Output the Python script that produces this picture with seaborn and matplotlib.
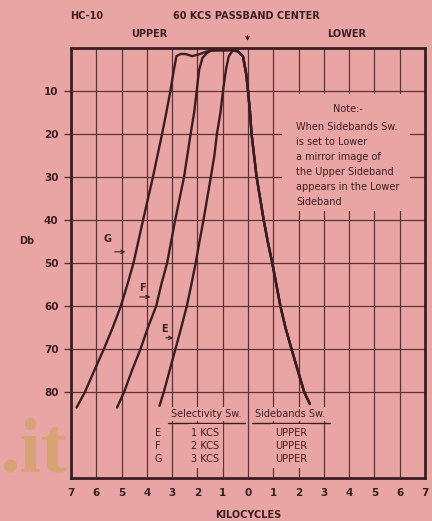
import numpy as np
import pandas as pd
import matplotlib
matplotlib.use("Agg")
import matplotlib.pyplot as plt
from matplotlib.patches import Rectangle
import seaborn as sns

# Curves: x in kilocycles (upper sideband negative), y in Db
g_x = [-6.78, -6.45, -6.08, -5.70, -5.35, -5.03, -4.77, -4.53, -4.34, -4.15, -3.76,
       -3.58, -3.40, -3.23, -3.07, -2.93, -2.83, -2.67, -2.47, -2.21, -1.95, -1.67,
       -1.41, -0.67]
g_db = [83.6, 80, 75, 70, 65, 60, 55, 50, 45, 40, 30, 25, 20, 15, 10, 5, 1.9, 1.4,
        1.4, 1.9, 1.5, 0.9, 0.5, 0.5]
f_x = [-5.18, -4.90, -4.59, -4.25, -3.96, -3.63, -3.43, -3.20, -3.04, -2.88, -2.53,
       -2.40, -2.27, -2.13, -2.03, -1.93, -1.80, -1.63, -1.47, -0.67]
f_db = [83.6, 80, 75, 70, 65, 60, 55, 50, 45, 40, 30, 25, 20, 15, 10, 5, 2.3, 1.2,
        0.6, 0.5]
e_x = [-3.50, -3.33, -3.10, -2.87, -2.64, -2.42, -2.24, -2.07, -1.92, -1.76, -1.47,
       -1.33, -1.23, -1.09, -0.99, -0.87, -0.76, -0.63, -0.47]
e_db = [83.2, 80, 75, 70, 65, 60, 55, 50, 45, 40, 30, 25, 20, 15, 10, 5, 1.9, 0.8, 0.4]
# shared skirt on the lower side
skirt_x = [-0.40, -0.20, -0.07, 0.00, 0.08, 0.14, 0.24, 0.34, 0.48, 0.62, 0.78, 0.96,
           1.12, 1.28, 1.48, 1.72, 1.97, 2.22, 2.45]
skirt_db = [0.8, 1.9, 6.1, 10, 15, 20, 25, 30, 35, 40, 45, 50, 55, 60, 65, 70, 75, 80, 82.8]

curve_names = ["E", "F", "G"]
kcs = ["1 KCS", "2 KCS", "3 KCS"]
sideband = ["UPPER", "UPPER", "UPPER"]
x_ticks = list(range(-7, 8))
y_ticks = [10, 20, 30, 40, 50, 60, 70, 80]

note_lines = ["When Sidebands Sw.", "is set to Lower", "a mirror image of",
              "the Upper Sideband", "appears in the Lower", "Sideband"]

rows = []
for name, xs, ys in [("E", e_x, e_db), ("F", f_x, f_db), ("G", g_x, g_db)]:
    for x, y in zip(xs + skirt_x, ys + skirt_db):
        rows.append({"curve": name, "kc": x, "db": y})
df = pd.DataFrame(rows)

BG = "#E9A5A3"
INK = "#3b1d22"
GRID = "#5c3338"

sns.set_theme(style="white")
plt.rcParams["font.family"] = ["DejaVu Sans"]

fig = plt.figure(figsize=(4.32, 5.21), dpi=100, facecolor=BG)
ax = fig.add_axes([0.1644, 0.0825, 0.8194, 0.8254])
ax.set_facecolor(BG)

sns.lineplot(data=df, x="kc", y="db", hue="curve", units="curve", estimator=None,
             sort=False, palette={"E": INK, "F": INK, "G": INK}, linewidth=1.7,
             legend=False, ax=ax, zorder=3)

ax.set_xlim(-7, 7)
ax.set_ylim(100, 0)
ax.set_xticks(x_ticks)
ax.set_xticklabels([str(abs(t)) for t in x_ticks], fontsize=7.5, fontweight="bold", color=INK)
ax.set_yticks(y_ticks)
ax.set_yticklabels([str(t) for t in y_ticks], fontsize=7.5, fontweight="bold", color=INK)
ax.tick_params(axis="x", length=0, pad=7)
ax.tick_params(axis="y", length=5, width=1, color=GRID, pad=4, left=True)
ax.set_axisbelow(True)
ax.grid(True, color=GRID, linewidth=0.9)
for s in ax.spines.values():
    s.set_color(INK)
    s.set_linewidth(2.0)
ax.set_xlabel("KILOCYCLES", fontsize=7, fontweight="bold", color=INK, labelpad=9)
ax.set_ylabel("")

# blank area behind the note
ax.add_patch(Rectangle((1.34, 10.6), 5.06, 27.4, facecolor=BG, edgecolor="none", zorder=1))
ax.text(3.95, 14.2, "Note:-", fontsize=7, color=INK, ha="center", va="center", zorder=4)
for i, line in enumerate(note_lines):
    ax.text(1.9, 18.4 + i * 3.48, line, fontsize=7, color=INK, ha="left", va="center", zorder=4)

# curve labels with arrows
for name, (lx, ly), (ax0, ax1, ay) in zip(
        curve_names,
        [(-3.32, 65.3), (-4.19, 55.8), (-5.57, 44.4)],
        [(-3.36, -2.85, 67.4), (-4.39, -3.75, 57.9), (-5.38, -4.74, 47.4)]):
    ax.text(lx, ly, name, fontsize=7, fontweight="bold", color=INK, ha="center", va="center", zorder=4)
    ax.annotate("", xy=(ax1, ay), xytext=(ax0, ay),
                arrowprops=dict(arrowstyle="->", color=INK, lw=0.8, mutation_scale=6), zorder=4)

# selectivity table
box = dict(facecolor=BG, edgecolor="none", pad=1.5)
ax.text(-1.66, 85.1, "Selectivity Sw.", fontsize=7, color=INK, ha="center", va="center", bbox=box, zorder=4)
ax.text(1.66, 85.1, "Sidebands Sw.", fontsize=7, color=INK, ha="center", va="center", bbox=box, zorder=4)
ax.plot([-3.16, -0.12], [87.3, 87.3], color=INK, lw=1.0, zorder=4)
ax.plot([0.16, 3.24], [87.3, 87.3], color=INK, lw=1.0, zorder=4)
for i in range(3):
    y = 89.5 + i * 3.05
    ax.text(-3.56, y, curve_names[i], fontsize=7, color=INK, ha="center", va="center", zorder=4)
    ax.text(-1.70, y, kcs[i], fontsize=7, color=INK, ha="center", va="center",
            bbox=dict(facecolor=BG, edgecolor="none", pad=2.5), zorder=4)
    ax.text(1.70, y, sideband[i], fontsize=7, color=INK, ha="center", va="center",
            bbox=dict(facecolor=BG, edgecolor="none", pad=2.5), zorder=4)

# header texts
fig.text(87 / 432, 1 - 16 / 521, "HC-10", fontsize=7, fontweight="bold", color=INK, ha="center", va="center")
fig.text(246 / 432, 1 - 16 / 521, "60 KCS PASSBAND CENTER", fontsize=7, fontweight="bold",
         color=INK, ha="center", va="center")
fig.text(149 / 432, 1 - 34 / 521, "UPPER", fontsize=7, fontweight="bold", color=INK, ha="center", va="center")
fig.text(347 / 432, 1 - 34 / 521, "LOWER", fontsize=7, fontweight="bold", color=INK, ha="center", va="center")
fig.text(27 / 432, 1 - 241 / 521, "Db", fontsize=7, fontweight="bold", color=INK, ha="center", va="center")
ax.annotate("", xy=(-0.02, -1.0), xytext=(-0.02, -3.5), xycoords="data",
            arrowprops=dict(arrowstyle="->", color=INK, lw=0.8, mutation_scale=6), annotation_clip=False)

# watermark
fig.text(1 / 432, 1 - 472 / 521, ".it", fontsize=56, fontweight="bold", family="Liberation Serif",
         color="#D7A276", ha="left", va="baseline")

fig.savefig("out.png", dpi=100, facecolor=BG)
